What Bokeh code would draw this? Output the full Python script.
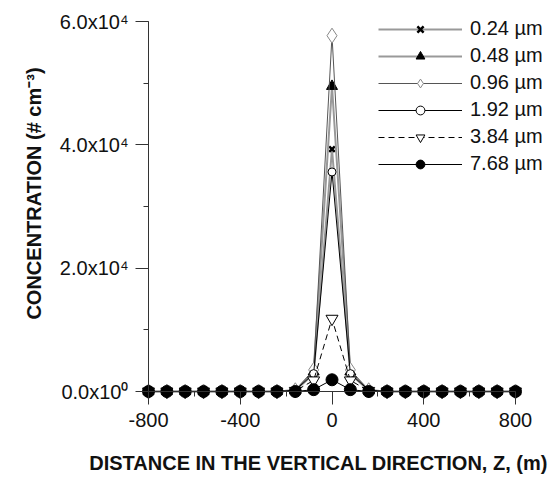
from bokeh.plotting import figure
from bokeh.models import (SingleIntervalTicker, Label, Legend, LegendItem,
                          LinearAxis)
from bokeh.embed import file_html
from bokeh.resources import INLINE
import math

# Vertical position of sampling points (m)
z = [-800, -720, -640, -560, -480, -400, -320, -240, -160, -80, 0,
     80, 160, 240, 320, 400, 480, 560, 640, 720, 800]

# Number concentration (# cm-3) for each particle diameter
c_024 = [0, 0, 0, 0, 0, 0, 0, 0, 200, 2800, 39300, 2800, 200, 0, 0, 0, 0, 0, 0, 0, 0]
c_048 = [0, 0, 0, 0, 0, 0, 0, 0, 200, 3200, 49500, 3200, 200, 0, 0, 0, 0, 0, 0, 0, 0]
c_096 = [0, 0, 0, 0, 0, 0, 0, 0, 200, 3500, 57700, 3500, 200, 0, 0, 0, 0, 0, 0, 0, 0]
c_192 = [0, 0, 0, 0, 0, 0, 0, 0, 200, 2900, 35600, 2900, 200, 0, 0, 0, 0, 0, 0, 0, 0]
c_384 = [0, 0, 0, 0, 0, 0, 0, 0, 100, 1800, 11800, 1800, 100, 0, 0, 0, 0, 0, 0, 0, 0]
c_768 = [0, 0, 0, 0, 0, 0, 0, 0, 0, 300, 1900, 300, 0, 0, 0, 0, 0, 0, 0, 0, 0]

labels = ["0.24 µm", "0.48 µm", "0.96 µm", "1.92 µm", "3.84 µm", "7.68 µm"]

x_tick_labels = {-800: "-800", -400: "-400", 0: "0", 400: "400", 800: "800"}
y_tick_labels = {0: "0.0x10⁰", 20000: "2.0x10⁴", 40000: "4.0x10⁴", 60000: "6.0x10⁴"}

FONT = "Liberation Sans"
FS = "20px"

# the frame fills the whole canvas; axes are pinned at data positions
W, H = 552, 478
X0PX, X1PX = 148, 515      # pixel columns of z = -800 and z = 800
Y0PX, Y1PX = 391, 21       # pixel rows of 0 and 60000
kx = (X1PX - X0PX) / 1600.0
ky = (Y0PX - Y1PX) / 60000.0

x_start = -800 - X0PX / kx
x_end = 800 + (W - X1PX) / kx
y_start = -(H - Y0PX) / ky
y_end = 60000 + Y1PX / ky

p = figure(width=W, height=H, output_backend="svg", toolbar_location=None,
           x_range=(x_start, x_end), y_range=(y_start, y_end),
           x_axis_type=None, y_axis_type=None,
           min_border=0)
p.outline_line_color = None
p.xgrid.visible = False
p.ygrid.visible = False
p.background_fill_color = "white"
p.border_fill_color = "white"

# x axis drawn at concentration = 0
xaxis = LinearAxis(ticker=SingleIntervalTicker(interval=400, num_minor_ticks=2),
                   fixed_location=0, bounds=(-800, 800))
xaxis.axis_line_color = "#333333"
xaxis.major_tick_line_color = "#333333"
xaxis.minor_tick_line_color = "#333333"
xaxis.major_tick_out = 13
xaxis.major_tick_in = 0
xaxis.minor_tick_out = 5
xaxis.minor_tick_in = 0
xaxis.major_label_text_font = FONT
xaxis.major_label_text_font_size = FS
xaxis.major_label_text_color = "#111111"
xaxis.major_label_standoff = 8
xaxis.major_label_overrides = x_tick_labels
p.add_layout(xaxis, "below")

# y axis drawn at z = -800
yaxis = LinearAxis(ticker=SingleIntervalTicker(interval=20000, num_minor_ticks=2),
                   fixed_location=-800, bounds=(0, 60000))
yaxis.axis_line_color = "#333333"
yaxis.major_tick_line_color = "#333333"
yaxis.minor_tick_line_color = "#333333"
yaxis.major_tick_out = 13
yaxis.major_tick_in = 0
yaxis.minor_tick_out = 5
yaxis.minor_tick_in = 0
yaxis.major_label_text_font = FONT
yaxis.major_label_text_font_size = FS
yaxis.major_label_text_color = "#111111"
yaxis.major_label_standoff = 7
yaxis.major_label_overrides = y_tick_labels
p.add_layout(yaxis, "left")

series = [
    (c_024, dict(line_color="#999999", line_width=2),
     dict(marker="x", size=8, line_color="black", line_width=2.5, fill_color=None)),
    (c_048, dict(line_color="#999999", line_width=2),
     dict(marker="triangle", size=11, line_color="black", fill_color="black")),
    (c_096, dict(line_color="#555555", line_width=1),
     dict(marker="diamond", size=15, line_color="#888888", fill_color="white")),
    (c_192, dict(line_color="black", line_width=1),
     dict(marker="circle", size=8, line_color="black", fill_color="white")),
    (c_384, dict(line_color="black", line_width=1, line_dash="6 4"),
     dict(marker="inverted_triangle", size=12, line_color="black", fill_color="white")),
    (c_768, dict(line_color="black", line_width=1),
     dict(marker="circle", size=12, line_color="black", fill_color="black")),
]

items = []
for (vals, lkw, mkw), lab in zip(series, labels):
    lr = p.line(z, vals, **lkw)
    sr = p.scatter(z, vals, **mkw)
    items.append(LegendItem(label=lab, renderers=[lr, sr]))

legend = Legend(items=items, location=(378, H - 175),
                border_line_color=None, background_fill_alpha=0,
                padding=0, margin=0, spacing=4,
                glyph_width=84, glyph_height=22, label_height=22,
                label_standoff=8,
                label_text_font=FONT, label_text_font_size=FS,
                label_text_color="#111111")
p.add_layout(legend, "center")

# axis titles
p.add_layout(Label(x=-800 + (318 - X0PX) / kx, y=(Y0PX - 462) / ky,
                   text="DISTANCE IN THE VERTICAL DIRECTION, Z, (m)",
                   text_font=FONT, text_font_size=FS, text_font_style="bold",
                   text_align="center", text_baseline="middle", text_color="#111111"))
p.add_layout(Label(x=-800 + (33 - X0PX) / kx, y=(Y0PX - 193) / ky,
                   text="CONCENTRATION (# cm⁻³)", angle=math.pi / 2,
                   text_font=FONT, text_font_size=FS, text_font_style="bold",
                   text_align="center", text_baseline="middle", text_color="#111111"))

open("out.html", "w").write(file_html(p, INLINE))
